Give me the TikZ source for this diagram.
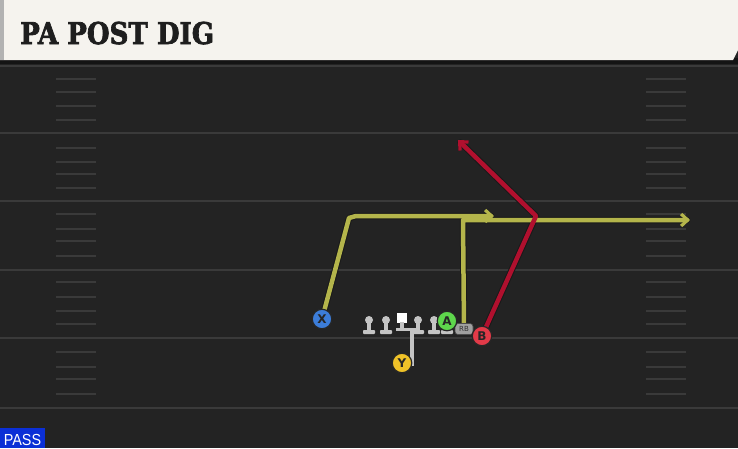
\documentclass[tikz,border=0pt]{standalone}
\usepackage{fontspec}
\usepackage{graphicx}
\setmainfont{DejaVu Sans}
\newfontfamily\titlefont[FakeBold=2.5]{DejaVu Serif}
\newfontfamily\passfont{Liberation Sans}
\usetikzlibrary{arrows.meta}
\definecolor{bgc}{HTML}{232323}
\definecolor{yardc}{HTML}{3A3A3A}
\definecolor{hashc}{HTML}{3A3A3A}
\definecolor{headc}{HTML}{F5F3EE}
\definecolor{titlec}{HTML}{1E1E1E}
\definecolor{routey}{HTML}{B4B54B}
\definecolor{router}{HTML}{B0102E}
\definecolor{pblue}{HTML}{3C7DD9}
\definecolor{pgreen}{HTML}{5ED64C}
\definecolor{pred}{HTML}{E23A48}
\definecolor{pyellow}{HTML}{EFC228}
\definecolor{pawnc}{HTML}{C4C4C4}
\definecolor{rbc}{HTML}{A0A0A0}
\definecolor{passc}{HTML}{0B2FD6}
\tikzset{
  player/.style={circle, draw=black!85, line width=1.2pt, minimum size=19.5pt, inner sep=0pt,
    font=\fontsize{12}{12}\selectfont\bfseries, text=black!85},
  routeout/.style={line width=6.5pt, draw=black!90, line join=round, line cap=round},
  routein/.style={line width=4.5pt, line join=round, line cap=round},
  tipout/.style={-{Straight Barb[length=7.5pt,width=14pt]}},
  tipin/.style={-{Straight Barb[length=6.5pt,width=12pt]}},
  yardline/.style={draw=yardc, line width=2pt},
  hashline/.style={draw=hashc, line width=1.6pt},
}
\begin{document}
\begin{tikzpicture}[x=1pt,y=-1pt]
\useasboundingbox (0,0) rectangle (738,448);
\fill[bgc] (0,0) rectangle (738,448);
% yard lines
\foreach \yy in {66,133,201,270,338,408} \draw[yardline] (0,\yy) -- (738,\yy);
% hash marks
\foreach \yy in {79,92,106,120,148,162,174,188,214,229,241,256,282,297,311,324,352,367,379,394}{
  \draw[hashline] (56,\yy) -- (96,\yy);
  \draw[hashline] (646,\yy) -- (686,\yy);
}
% header
\fill[black!92] (0,58) rectangle (738,64);
\fill[headc] (0,0) -- (738,0) -- (738,50) -- (733,60) -- (0,60) -- cycle;
\fill[black!30] (0,0) rectangle (4,60);
\node[anchor=base west, inner sep=0pt, text=titlec] (title) at (20,44)
  {\scalebox{0.87}[1]{\titlefont\bfseries\fontsize{30}{30}\selectfont PA POST DIG}};
% PASS tag
\fill[passc] (0,428) rectangle (45,448);
\node[anchor=center, inner sep=0pt, text=white] (pass) at (22.5,439.5)
  {\scalebox{0.9}[1]{\passfont\fontsize{16}{16}\selectfont PASS}};
% linemen
\foreach \xx in {369,386,418,434,447}{
  \fill[pawnc] (\xx-2,320) rectangle (\xx+2,331);
  \fill[pawnc] (\xx,320) circle (4);
  \fill[pawnc, rounded corners=0.8pt] (\xx-6,330) rectangle (\xx+6,334);
}
% QB drop line and center
\fill[pawnc] (396,328) rectangle (420,331);
\fill[pawnc] (410,328) rectangle (414,366);
\fill[white] (397,313) rectangle (407,323);
\fill[pawnc] (400,322) rectangle (404,330);
% key points
\coordinate (xbreak) at (349,218);
\coordinate (xturn) at (356,216);
\coordinate (xend) at (494,216);
\coordinate (rbturn) at (463,220);
\coordinate (rbend) at (690,220);
\coordinate (bbreak) at (536,216);
\coordinate (bend) at (458,140);
\coordinate (rbpos) at (464,329);
\coordinate (xpos) at (322,319);
\coordinate (bpos) at (482,336);
% routes (outline then color)
\draw[routeout] (xpos) -- (xbreak) -- (xturn) -- ([xshift=-3pt]xend);
\draw[routeout] (rbpos) -- (rbturn) -- ([xshift=-3pt]rbend);
\draw[routeout] (bpos) -- (bbreak) -- ([shift={(2.5,2.5)}]bend);
\draw[routeout, line width=1.2pt, tipout] ([xshift=-20pt]rbend) -- (rbend);
\draw[routeout, line width=1.2pt, tipout] ([xshift=-20pt]xend) -- (xend);
\draw[routeout, line width=1.2pt, tipout] ([shift={(14,14)}]bend) -- (bend);
\draw[routein, draw=routey] (xpos) -- (xbreak) -- (xturn) -- ([xshift=-3pt]xend);
\draw[routein, draw=routey] (rbpos) -- (rbturn) -- ([xshift=-3pt]rbend);
\draw[routey, line width=3.2pt, tipin] ([xshift=-20pt]rbend) -- (rbend);
\draw[routey, line width=3.2pt, tipin] ([xshift=-20pt]xend) -- (xend);
\draw[routein, draw=router] (bpos) -- (bbreak) -- ([shift={(2.5,2.5)}]bend);
\draw[router, line width=3.2pt, tipin] ([shift={(14,14)}]bend) -- (bend);
% RB tag
\node[fill=rbc, draw=black!70, line width=0.6pt, rounded corners=3pt, minimum width=18pt, minimum height=11pt,
  inner sep=0pt, font=\fontsize{7}{7}\selectfont, text=black!80] (RB) at (rbpos) {RB};
\node[player, fill=pblue] (X) at (xpos) {X};
\node[player, fill=pgreen] (A) at (447,321) {A};
\node[player, fill=pred] (B) at (bpos) {B};
\node[player, fill=pyellow] (Y) at (402,363) {Y};
\end{tikzpicture}
\end{document}
